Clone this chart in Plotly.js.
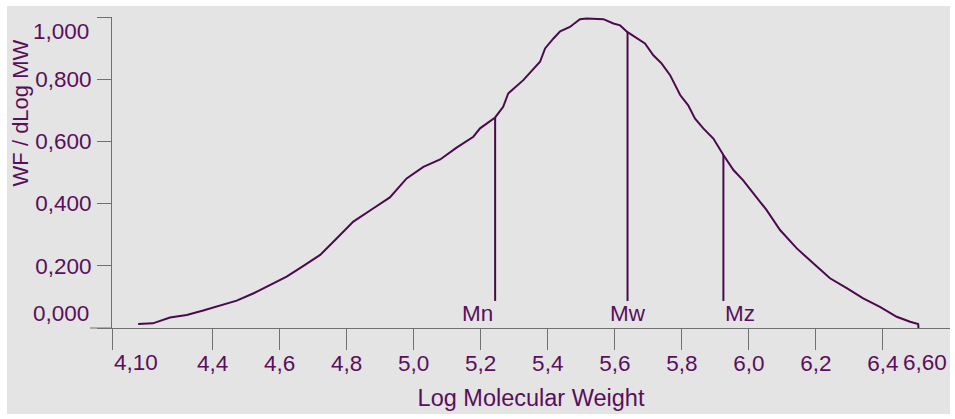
<!DOCTYPE html>
<html>
<head>
<meta charset="utf-8">
<script src="https://cdn.plot.ly/plotly-3.0.1.min.js"></script>
<style>
  html, body { margin: 0; padding: 0; background: #ffffff; }
  #chart { position: absolute; left: 7px; top: 6px; width: 943px; height: 408px; }
</style>
</head>
<body>
<div id="chart"></div>
<script>
// ---- data ----
const logMW = [4.178, 4.222, 4.273, 4.323, 4.372, 4.422, 4.472, 4.521, 4.571, 4.621,
  4.670, 4.721, 4.770, 4.820, 4.880, 4.929, 4.979, 5.029, 5.079, 5.128,
  5.178, 5.198, 5.243, 5.267, 5.282, 5.327, 5.377, 5.392, 5.417, 5.437,
  5.466, 5.496, 5.516, 5.566, 5.596, 5.616, 5.637, 5.665, 5.690, 5.715,
  5.740, 5.765, 5.795, 5.819, 5.839, 5.864, 5.894, 5.924, 5.954, 5.983,
  6.013, 6.053, 6.093, 6.143, 6.192, 6.242, 6.292, 6.341, 6.391, 6.441,
  6.481, 6.505, 6.506];
const wfDlogMW = [0.013, 0.015, 0.034, 0.042, 0.056, 0.071, 0.088, 0.111, 0.138, 0.165,
  0.199, 0.235, 0.288, 0.342, 0.385, 0.420, 0.481, 0.518, 0.542, 0.580,
  0.615, 0.642, 0.677, 0.711, 0.754, 0.797, 0.856, 0.899, 0.931, 0.954,
  0.968, 0.993, 0.995, 0.993, 0.979, 0.973, 0.952, 0.931, 0.915, 0.877,
  0.850, 0.813, 0.749, 0.716, 0.674, 0.642, 0.609, 0.556, 0.508, 0.475,
  0.433, 0.379, 0.315, 0.256, 0.208, 0.160, 0.128, 0.095, 0.068, 0.036,
  0.020, 0.013, 0.000];

const avgNames = ['Mn', 'Mw', 'Mz'];
const avgLogMW = [5.243, 5.638, 5.924];
const avgTopY = [0.677, 0.952, 0.556];
const avgBaseY = 0.087;
const avgLabelY = 0.048;

const xTickVals = [4.10, 4.4, 4.6, 4.8, 5.0, 5.2, 5.4, 5.6, 5.8, 6.0, 6.2, 6.4, 6.60];
const xTickText = ['4,10', '4,4', '4,6', '4,8', '5,0', '5,2', '5,4', '5,6', '5,8', '6,0', '6,2', '6,4', '6,60'];
const yTickVals = [0, 0.2, 0.4, 0.6, 0.8, 1.0];
const yTickText = ['0,000', '0,200', '0,400', '0,600', '0,800', '1,000'];

// ---- styling ----
const FONT = 'Liberation Sans, Arial, sans-serif';
const TXT = '#5a0f5c';
const LINE = '#4b0a4d';
const AXIS = '#707070';
const TICKSIZE = 22.5;
const TITLESIZE = 23.5;

const traces = [{
  x: logMW, y: wfDlogMW, type: 'scatter', mode: 'lines',
  line: { color: LINE, width: 2 }, hoverinfo: 'skip', showlegend: false
}];
avgNames.forEach((n, i) => {
  traces.push({
    x: [avgLogMW[i], avgLogMW[i]], y: [avgBaseY, avgTopY[i]],
    type: 'scatter', mode: 'lines', line: { color: LINE, width: 2 },
    hoverinfo: 'skip', showlegend: false
  });
});

const annotations = [];
const anchors = ['right', 'center', 'left'];
avgNames.forEach((n, i) => {
  annotations.push({
    x: avgLogMW[i], y: avgLabelY, xref: 'x', yref: 'y', text: n,
    showarrow: false, xanchor: anchors[i], yanchor: 'middle',
    font: { family: FONT, size: TICKSIZE, color: TXT }
  });
});
// end tick labels, pushed inside like the reference
const nX = xTickVals.length, nY = yTickVals.length;
annotations.push({ x: xTickVals[0], y: 0, xref: 'x', yref: 'paper', text: xTickText[0],
  showarrow: false, xanchor: 'left', yanchor: 'middle', yshift: -34, xshift: 0,
  font: { family: FONT, size: TICKSIZE, color: TXT } });
annotations.push({ x: xTickVals[nX - 1], y: 0, xref: 'x', yref: 'paper', text: xTickText[nX - 1],
  showarrow: false, xanchor: 'right', yanchor: 'middle', yshift: -34, xshift: -1,
  font: { family: FONT, size: TICKSIZE, color: TXT } });
annotations.push({ x: 0, y: yTickVals[0], xref: 'paper', yref: 'y', text: yTickText[0],
  showarrow: false, xanchor: 'right', yanchor: 'middle', xshift: -21, yshift: 15,
  font: { family: FONT, size: TICKSIZE, color: TXT } });
annotations.push({ x: 0, y: yTickVals[nY - 1], xref: 'paper', yref: 'y', text: yTickText[nY - 1],
  showarrow: false, xanchor: 'right', yanchor: 'middle', xshift: -21, yshift: -14,
  font: { family: FONT, size: TICKSIZE, color: TXT } });
// y axis title
annotations.push({ x: 0, y: 0.69, xref: 'paper', yref: 'paper', text: 'WF / dLog MW',
  textangle: -90, showarrow: false, xanchor: 'center', yanchor: 'middle', xshift: -92,
  font: { family: FONT, size: 22, color: TXT } });

const xText = xTickText.map((t, i) => (i === 0 || i === nX - 1) ? '' : t);
const yText = yTickText.map((t, i) => (i === 0 || i === nY - 1) ? '' : t);

const layout = {
  width: 943, height: 408,
  margin: { l: 105, r: 0, t: 11, b: 86, pad: 0 },
  paper_bgcolor: '#e4e4e4', plot_bgcolor: '#e4e4e4',
  font: { family: FONT, size: TICKSIZE, color: TXT },
  showlegend: false, hovermode: false,
  xaxis: {
    range: [4.10, 6.60], tickmode: 'array', tickvals: xTickVals, ticktext: xText,
    showgrid: false, zeroline: false, showline: true, linecolor: AXIS, linewidth: 1,
    ticks: 'outside', ticklen: 21, tickcolor: AXIS, tickwidth: 1,
    ticklabelstandoff: -6,
    tickfont: { family: FONT, size: TICKSIZE, color: TXT },
    title: { text: 'Log Molecular Weight', font: { family: FONT, size: TITLESIZE, color: TXT }, standoff: 14 },
    fixedrange: true, automargin: false
  },
  yaxis: {
    range: [0, 1.0], tickmode: 'array', tickvals: yTickVals, ticktext: yText,
    showgrid: false, zeroline: false, showline: true, linecolor: AXIS, linewidth: 1,
    ticks: 'outside', ticklen: 14, tickcolor: AXIS, tickwidth: 1,
    ticklabelstandoff: 1,
    tickfont: { family: FONT, size: TICKSIZE, color: TXT },
    fixedrange: true, automargin: false
  },
  shapes: [{
    type: 'line', xref: 'paper', yref: 'paper', x0: -22 / 838, x1: 0, y0: 0, y1: 0,
    line: { color: AXIS, width: 1 }
  }],
  annotations: annotations
};

Plotly.newPlot('chart', traces, layout, { displayModeBar: false, staticPlot: true });
</script>
</body>
</html>
